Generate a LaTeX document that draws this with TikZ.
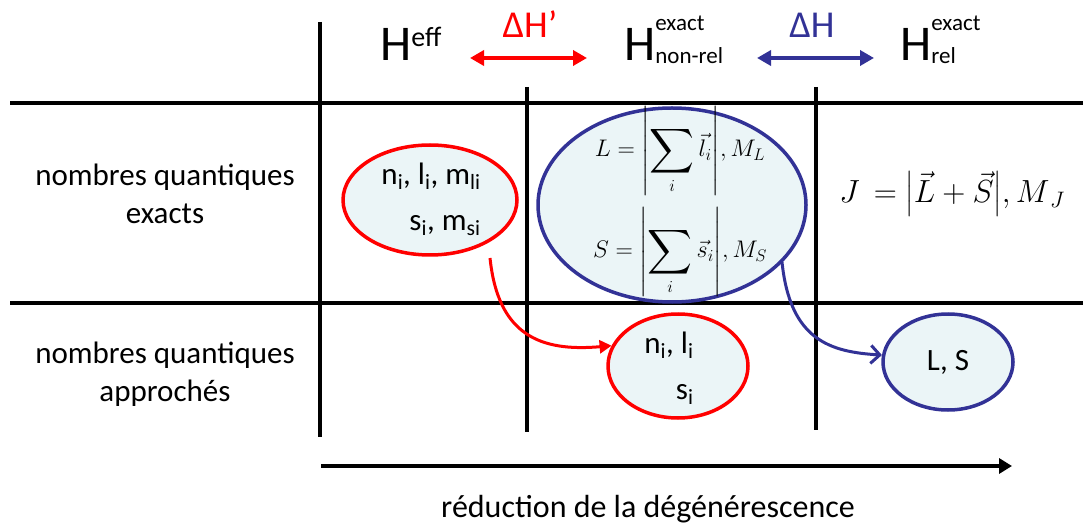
\documentclass[tikz,border=0pt]{standalone}
\usepackage{fix-cm}
\usepackage{amsmath}
\usepackage{graphicx}
\usepackage{fontspec}
\setmainfont{Carlito}
\usetikzlibrary{arrows.meta,shapes.geometric}
\definecolor{myred}{RGB}{255,0,0}
\definecolor{myblue}{RGB}{50,50,150}
\definecolor{myfill}{RGB}{235,245,247}
\newcommand{\bigsum}{\mathop{\vcenter{\hbox{\scalebox{1.25}{$\displaystyle\sum$}}}}\limits}
\begin{document}
\begin{tikzpicture}[x=1pt,y=-1pt,
  gridline/.style={line width=4pt,black},
  lbl/.style={font=\fontsize{31}{38}\selectfont,align=center,inner sep=0},
  ellbox/.style={ellipse,draw,fill=myfill,line width=3.5pt,inner sep=0},
  redell/.style={ellbox,draw=myred},
  blueell/.style={ellbox,draw=myblue},
  elltext/.style={font=\fontsize{31}{46}\selectfont,align=right,inner sep=0},
  bigH/.style={anchor=base west,inner sep=0,font=\fontsize{50}{50}\selectfont},
  redarr/.style={myred,line width=3.5pt,{Triangle[length=14pt,width=15pt]}-{Triangle[length=14pt,width=15pt]}},
  bluearr/.style={myblue,line width=3.5pt,{Triangle[length=14pt,width=15pt]}-{Triangle[length=14pt,width=15pt]}},
  redcurve/.style={myred,line width=3pt,-{Triangle[length=12pt,width=13pt]}},
  bluecurve/.style={myblue,line width=3pt,-{Straight Barb[length=9pt,width=18pt,line width=3pt]}},
  mathf/.style={inner sep=0}
]
\useasboundingbox (0,0) rectangle (1083,526);

% grid
\coordinate (v1t) at (320,22);  \coordinate (v1b) at (320,437);
\coordinate (v2t) at (527,87);  \coordinate (v2b) at (527,432);
\coordinate (v3t) at (816,87);  \coordinate (v3b) at (816,430);
\coordinate (h1l) at (10,103);  \coordinate (h1r) at (1083,103);
\coordinate (h2l) at (10,303);  \coordinate (h2r) at (1083,303);
\draw[gridline] (v1t) -- (v1b);
\draw[gridline] (v2t) -- (v2b);
\draw[gridline] (v3t) -- (v3b);
\draw[gridline] (h1l) -- (h1r);
\draw[gridline] (h2l) -- (h2r);

% bottom arrow
\coordinate (ba) at (321,466); \coordinate (bb) at (1012,466);
\draw[gridline,-{Triangle[length=13pt,width=15pt]}] (ba) -- (bb);
\node[lbl,anchor=base,font=\fontsize{32}{38}\selectfont] (red) at (648,517) {réduction de la dégénérescence};

% header
\node[bigH] (heff) at (380,61) {H\raisebox{14pt}{\fontsize{28}{28}\selectfont eff}};
\node[bigH] (hnr) at (624,61) {H\rlap{\raisebox{30pt}{\fontsize{23}{23}\selectfont exact}}\raisebox{-3pt}{\fontsize{23}{23}\selectfont non-rel}};
\node[bigH] (hrel) at (900,61) {H\rlap{\raisebox{30pt}{\fontsize{23}{23}\selectfont exact}}\raisebox{-3pt}{\fontsize{23}{23}\selectfont rel}};
\node[anchor=base,inner sep=0,text=myred,font=\fontsize{38}{38}\selectfont] (dHp) at (530,38) {ΔH’};
\node[anchor=base,inner sep=0,text=myblue,font=\fontsize{38}{38}\selectfont] (dH) at (812,38) {ΔH};
\coordinate (ra) at (470,58); \coordinate (rb) at (587,58);
\coordinate (bla) at (757,58); \coordinate (blb) at (874,58);
\draw[redarr] (ra) -- (rb);
\draw[bluearr] (bla) -- (blb);

% row labels
\node[lbl] (ex) at (165,194) {nombres quantiques\\exacts};
\node[lbl] (ap) at (165,374) {nombres quantiques\\approchés};

% ellipses
\node[redell,minimum width=174pt,minimum height=110pt] (r1) at (430,200) {};
\node[elltext] (r1t) at (431,199) {n\textsubscript{i}, l\textsubscript{i}, m\textsubscript{li}\\s\textsubscript{i}, m\textsubscript{si}};
\node[blueell,minimum width=268pt,minimum height=194pt] (b1) at (672,205) {};
\node[redell,minimum width=140pt,minimum height=104pt] (r2) at (678,366) {};
\node[elltext] (r2t) at (669,368) {n\textsubscript{i}, l\textsubscript{i}\\s\textsubscript{i}};
\node[blueell,minimum width=130pt,minimum height=96pt,font=\fontsize{31}{31}\selectfont] (b2) at (948,362) {L, S};

% formulas
\node[mathf] (Lf) at (680,151) {\fontsize{24}{28}\selectfont$\displaystyle L=\left|\bigsum_i \vec{l}_i\rule[-8pt]{0pt}{42pt}\right|\!, M_L$};
\node[mathf] (Sf) at (680,252) {\fontsize{24}{28}\selectfont$\displaystyle S=\left|\bigsum_i \vec{s}_i\rule[-8pt]{0pt}{42pt}\right|\!, M_S$};
\node[mathf] (Jf) at (952,194) {\fontsize{32}{36}\selectfont$J\,=\left|\vec{L}+\vec{S}\rule[-6pt]{0pt}{30pt}\right|\!,M_{\,J}$};

% curved connectors
\coordinate (rs) at (490,258);
\coordinate (bs) at (782,262);
\draw[redcurve] (rs) .. controls (498,335) and (540,352) .. (r2.163);
\draw[bluecurve] (bs) .. controls (790,340) and (830,352) .. (b2.174);
\end{tikzpicture}
\end{document}
